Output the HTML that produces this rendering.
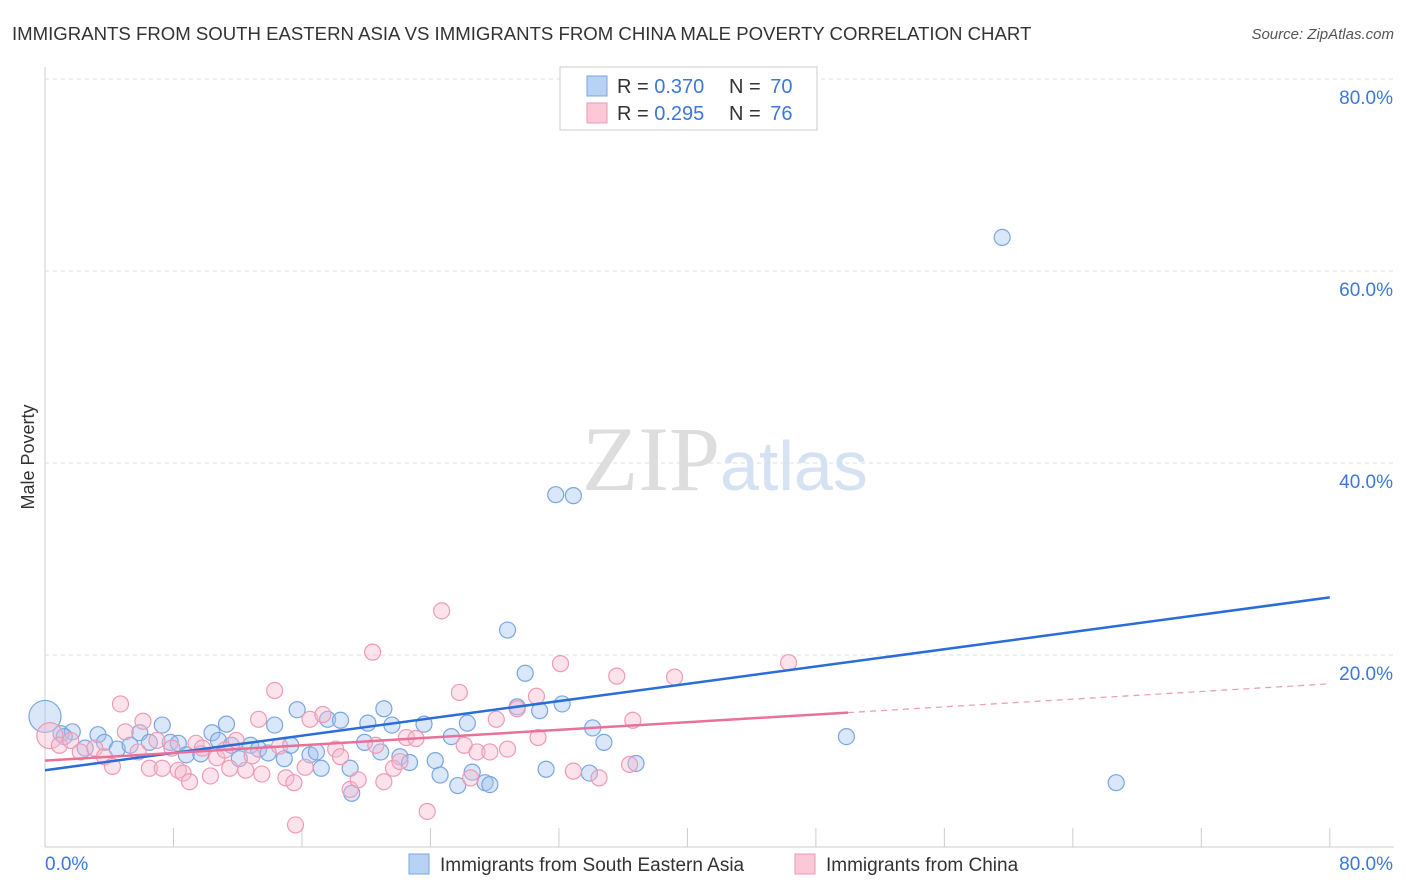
<!DOCTYPE html>
<html><head><meta charset="utf-8"><style>
body{margin:0;background:#fff;font-family:"Liberation Sans",sans-serif;}
</style></head><body>
<svg width="1406" height="892" viewBox="0 0 1406 892" style="display:block">
<text x="12" y="40" font-size="18.6" fill="#333">IMMIGRANTS FROM SOUTH EASTERN ASIA VS IMMIGRANTS FROM CHINA MALE POVERTY CORRELATION CHART</text>
<text x="1394" y="39" font-size="15" fill="#555" font-style="italic" text-anchor="end">Source: ZipAtlas.com</text>
<g id="grid"></g>
<text x="720" y="490" font-size="92" fill="#ddd" text-anchor="end" font-family="Liberation Serif">ZIP</text>
<text x="720" y="490" font-size="70" fill="#d4e2f4">atlas</text>
<text transform="translate(34,457) rotate(-90)" font-size="18" fill="#333" text-anchor="middle">Male Poverty</text>
<g id="pts"></g>
<g id="lines"></g>
<g>
<rect x="560" y="67" width="257" height="63" fill="#fff" stroke="#ccc"/>
<rect x="587" y="76" width="20" height="20" fill="#b8d2f4" stroke="#7aa6e0"/>
<rect x="587" y="103" width="20" height="20" fill="#fac8d6" stroke="#ef9ab4"/>
<text x="617" y="93" font-size="20" fill="#333">R = <tspan fill="#3b78d8">0.370</tspan></text>
<text x="729" y="93" font-size="20" fill="#333">N = <tspan fill="#3b78d8" dx="4">70</tspan></text>
<text x="617" y="120" font-size="20" fill="#333">R = <tspan fill="#3b78d8">0.295</tspan></text>
<text x="729" y="120" font-size="20" fill="#333">N = <tspan fill="#3b78d8" dx="4">76</tspan></text>
</g>
<g>
<rect x="409" y="854" width="20" height="20" fill="#b8d2f4" stroke="#7aa6e0"/>
<text x="440" y="871" font-size="19" fill="#333">Immigrants from South Eastern Asia</text>
<rect x="795" y="854" width="20" height="20" fill="#fac8d6" stroke="#ef9ab4"/>
<text x="826" y="871" font-size="19" fill="#333">Immigrants from China</text>
</g>
</svg>
<script>
const yTicks=[20,40,60,80];
const xTickLabels=["0.0%","80.0%"];
const blueX=[0,1,1.7,1.2,2.5,3.3,3.7,4.5,5.3,5.9,6.5,7.3,7.8,8.3,8.8,9.7,10.4,10.8,11.3,11.6,12.1,12.8,13.3,13.9,14.3,14.9,15.3,15.7,16.5,16.9,17.2,17.6,18.4,19,19.1,19.9,20.1,20.9,21.1,21.6,22.1,22.7,23.6,24.3,24.6,25.3,25.7,26.3,26.6,27.4,27.7,28.8,29.4,29.9,30.8,31.2,31.8,32.2,32.9,33.9,34.1,34.8,36.8,49.9,59.6,66.7];
const blueY=[13.6,11.8,12,11.5,10.3,11.7,10.9,10.2,10.6,11.9,10.9,12.7,10.9,10.8,9.6,9.7,11.9,11.1,12.8,10.6,9.2,10.6,10.2,9.8,12.7,9.2,10.6,14.3,9.6,9.9,8.2,13.3,13.2,8.2,5.6,10.9,12.9,9.9,14.4,12.7,9.4,8.8,12.8,9,7.5,11.5,6.4,12.9,7.8,6.7,6.5,22.6,14.6,18.1,14.2,8.1,36.7,14.9,36.6,7.7,12.4,10.9,8.7,11.5,63.5,6.7];
const pinkX=[0.3,0.9,1.6,2.2,3.1,3.7,4.2,4.7,5,5.8,6.1,6.5,6.97,7.3,7.9,8.3,8.6,9.0,9.4,9.8,10.3,10.7,11.2,11.5,11.9,12.5,12.9,13.3,13.5,14.3,14.6,15,15.5,15.6,16.2,16.5,17.3,18.1,18.4,19,19.5,20.4,20.6,21.1,21.7,22.1,22.5,23.1,23.8,24.7,25.8,26.1,26.5,26.9,27.7,28.1,28.8,29.4,30.6,30.7,32.1,32.9,34.5,35.6,36.4,36.6,39.2,46.3];
const pinkY=[11.6,10.6,11.1,9.9,10.3,9.4,8.4,14.9,12,9.9,13.1,8.2,11.1,8.2,10.3,8,7.7,6.8,10.8,10.3,7.4,9.3,10.1,8.2,11.1,8,9.5,13.3,7.6,16.3,10.5,7.2,6.7,2.3,8.3,13.3,13.8,10.2,9.4,6,7,20.3,10.6,6.8,8.2,8.9,11.4,11.3,3.7,24.6,16.1,10.6,7.2,9.9,9.9,13.3,10.2,14.4,15.7,11.4,19.1,7.9,7.2,17.8,8.6,13.2,17.7,19.2];
const blueLine=[[0,8],[80,26]];
const pinkLine=[[0,9],[50,14]];
const pinkDash=[[50,14],[80,17]];
const X=v=>45+v*16.06, Y=v=>847-v*9.6;
const ns="http://www.w3.org/2000/svg";
function mk(t,a,p){const e=document.createElementNS(ns,t);for(const k in a)e.setAttribute(k,a[k]);p.appendChild(e);return e;}
const g=document.getElementById('grid');
mk('line',{x1:45,y1:847,x2:1394,y2:847,stroke:'#ccc'},g);
mk('line',{x1:45,y1:67,x2:45,y2:847,stroke:'#ccc'},g);
yTicks.forEach(v=>{
 const l=mk('line',{x1:45,y1:Y(v),x2:1394,y2:Y(v),stroke:'#ddd','stroke-dasharray':'4,4'},g);
 
 
 const t=mk('text',{x:1393,y:Y(v)+25,'font-size':19,fill:'#3b78d8','text-anchor':'end'},g);
 t.textContent=v.toFixed(1)+'%';
 
 
});
for(let i=1;i<=10;i++){mk('line',{x1:X(i*8),y1:828,x2:X(i*8),y2:847,stroke:'#ccc'},g);}
const t0=mk('text',{x:45,y:870,'font-size':19,fill:'#3b78d8'},g);t0.textContent=xTickLabels[0];


const t1=mk('text',{x:1393,y:870,'font-size':19,fill:'#3b78d8','text-anchor':'end'},g);t1.textContent=xTickLabels[1];


const p=document.getElementById('pts');
blueX.forEach((x,i)=>{const c=mk('circle',{cx:X(x),cy:Y(blueY[i]),r:i==0?16:8,fill:'rgba(160,196,240,0.4)',stroke:'#7aa6e0','stroke-width':1.2},p);
 
 });
pinkX.forEach((x,i)=>{const c=mk('circle',{cx:X(x),cy:Y(pinkY[i]),r:i==0?13:8,fill:'rgba(248,186,205,0.4)',stroke:'#ef9ab4','stroke-width':1.2},p);
 
 });
const L=document.getElementById('lines');
const b=mk('line',{x1:X(blueLine[0][0]),y1:Y(blueLine[0][1]),x2:X(blueLine[1][0]),y2:Y(blueLine[1][1]),stroke:'#2a6dd9','stroke-width':2.5},L);


const pl=mk('line',{x1:X(pinkLine[0][0]),y1:Y(pinkLine[0][1]),x2:X(pinkLine[1][0]),y2:Y(pinkLine[1][1]),stroke:'#e8719a','stroke-width':2.5},L);


const pd=mk('line',{x1:X(pinkDash[0][0]),y1:Y(pinkDash[0][1]),x2:X(pinkDash[1][0]),y2:Y(pinkDash[1][1]),stroke:'#e8a0b8','stroke-width':1.3,'stroke-dasharray':'6,5'},L);


</script>
</body></html>
